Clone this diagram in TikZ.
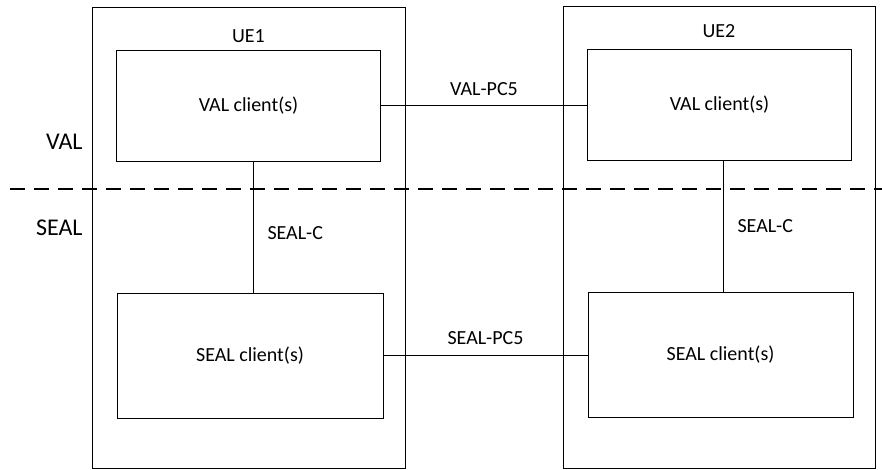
\documentclass[tikz,border=0pt]{standalone}
\usepackage{fontspec}
\setmainfont{Carlito}
\usetikzlibrary{positioning}

\begin{document}
\begin{tikzpicture}
[
	              x = 1pt,
	              y = -1pt,
	  line width      = 1pt,
	     ue/.style = { draw=black, rectangle, inner sep=0pt },
	 client/.style = { draw=black, rectangle, inner sep=0pt, minimum width=264pt,
	                   font=\fontsize{20}{24}\selectfont },
	    lbl/.style = { draw=none, fill=none, inner sep=0pt, font=\fontsize{20}{24}\selectfont },
	  layer/.style = { lbl, anchor=east, font=\fontsize{24}{28}\selectfont },
	divider/.style = { line width=2pt, dash pattern=on 15pt off 9pt }
]
	\useasboundingbox (0,0) rectangle (882,469);

	% UE boxes
	\node (ue1) at (248.5,237.5) [ue, minimum width=313pt, minimum height=461pt] {};
	\node (ue2) at (719,237)     [ue, minimum width=312pt, minimum height=462pt] {};
	\node (t1) [lbl, below=23pt of ue1.north] {UE1};
	\node (t2) [lbl, below=19pt of ue2.north] {UE2};

	% clients
	\node (val1)  at (248.5,105.5) [client, minimum height=111pt] {VAL client(s)};
	\node (seal1) at (250,355.5)   [client, minimum width=266pt, minimum height=125pt] {SEAL client(s)};
	\node (val2)  at (719.5,104.5) [client, minimum height=111pt] {VAL client(s)};
	\node (seal2) at (720.5,355)   [client, minimum width=265pt, minimum height=125pt] {SEAL client(s)};

	% layers
	\coordinate (dl) at (10,189);
	\coordinate (dr) at (882,189);
	\draw [divider] (dl) -- (dr);
	\node (vallayer)  at (83,142) [layer] {VAL};
	\node (seallayer) at (83,228) [layer] {SEAL};

	% reference points
	\draw (val1.east) -- (val1.east -| val2.west)
		node [lbl, midway, above=9pt] {VAL-PC5};
	\draw (seal1.east) -- (seal1.east -| seal2.west)
		node [lbl, midway, above=10pt] {SEAL-PC5};
	\draw ([xshift=4.5pt]val1.south) -- ([xshift=4.5pt]val1.south |- seal1.north)
		node [lbl, pos=0.55, right=14pt] {SEAL-C};
	\draw ([xshift=3.5pt]val2.south) -- ([xshift=3.5pt]val2.south |- seal2.north)
		node [lbl, pos=0.5, right=14pt] {SEAL-C};

\end{tikzpicture}
\end{document}
